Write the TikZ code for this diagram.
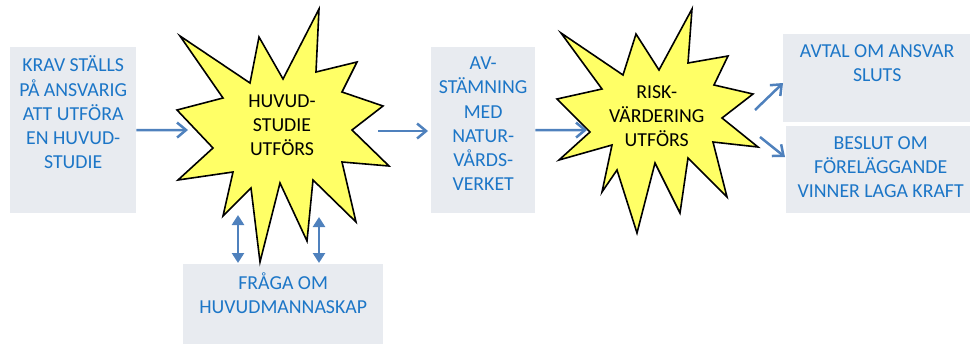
\documentclass[tikz,border=0pt]{standalone}
\usepackage{fontspec}
\setmainfont{Carlito}
\usetikzlibrary{arrows.meta,calc}
\definecolor{boxfill}{HTML}{E8EBF0}
\definecolor{txtblue}{HTML}{1C76C7}
\definecolor{arrblue}{HTML}{4F81BD}
\definecolor{starfill}{HTML}{FFFF66}
\begin{document}
\begin{tikzpicture}[x=1pt,y=-1pt,
  box/.style={fill=boxfill, draw=none, inner sep=0pt, anchor=north west},
  btxt/.style={text=txtblue, align=center, inner sep=0pt, anchor=north, font=\fontsize{19.8}{24.2}\selectfont},
  stxt/.style={text=black, align=center, inner sep=0pt, anchor=north, font=\fontsize{19.8}{24.2}\selectfont},
  flow/.style={draw=arrblue, line width=2.5pt, -{Straight Barb[length=9pt,width=15pt]}},
  dbl/.style={draw=arrblue, line width=2.8pt, {Triangle[length=10pt,width=12pt]}-{Triangle[length=10pt,width=12pt]}},
  star/.style={fill=starfill, draw=black, line width=1.6pt, line join=miter}]
\useasboundingbox (0,0) rectangle (970,343);

% boxes
\node[box, minimum width=126pt, minimum height=166pt] (b1) at (10,47) {};
\node[btxt, yshift=-7.8pt] (t1) at (b1.north) {\strut KRAV STÄLLS\\PÅ ANSVARIG\\ATT UTFÖRA\\EN HUVUD-\\STUDIE};

\node[box, minimum width=104pt, minimum height=166pt] (b2) at (431,47) {};
\node[btxt, yshift=-5.6pt] (t2) at (b2.north) {\strut AV-\\STÄMNING\\MED\\NATUR-\\VÅRDS-\\VERKET};

\node[box, minimum width=189pt, minimum height=88pt] (b3) at (783,34) {};
\node[btxt, yshift=-6.6pt] (t3) at ($(b3.north)+(-0.5,0)$) {\strut AVTAL OM ANSVAR\\SLUTS};

\node[box, minimum width=186pt, minimum height=87pt] (b4) at (786,126) {};
\node[btxt, yshift=-6.1pt] (t4) at ($(b4.north)+(1.5,0)$) {\strut BESLUT OM\\FÖRELÄGGANDE\\VINNER LAGA KRAFT};

\node[box, minimum width=200pt, minimum height=80pt] (b5) at (183,264) {};
\node[btxt, yshift=-8.4pt] (t5) at (b5.north) {\strut FRÅGA OM\\HUVUDMANNASKAP};

% stars
\draw[star] (180,36) -- (250,83) -- (259,37) -- (283,79) -- (319,9) -- (316,72)
  -- (357,62) -- (342,92) -- (383,106) -- (352,130) -- (389,166) -- (342,162)
  -- (356,222) -- (313,180) -- (307,241) -- (280,183) -- (260,262) -- (251,188)
  -- (223,216) -- (233,172) -- (178,180) -- (213,148) -- (177,110) -- (223,98) -- cycle;
\node[stxt] (s1) at (282,90.4) {\strut HUVUD-\\STUDIE\\UTFÖRS};

\draw[star] (561,33) -- (623,75) -- (636,34) -- (659,70) -- (692,9) -- (688,63)
  -- (728,56) -- (714,85) -- (753,94) -- (722,118) -- (758,147) -- (713,142)
  -- (727,197) -- (688,158) -- (680,213) -- (655,163) -- (637,233) -- (617,170)
  -- (602,192) -- (612,145) -- (559,160) -- (590,132) -- (557,99) -- (602,89) -- cycle;
\node[stxt] (s2) at (656.7,81.4) {\strut RISK-\\VÄRDERING\\UTFÖRS};

% connector end points
\coordinate (s1w) at (188,130);
\coordinate (s1e) at (378,131);
\coordinate (s2w) at (587,130);
\coordinate (s2a) at (755,110);
\coordinate (b3a) at (783,83);
\coordinate (s2b) at (760,137);
\coordinate (b4a) at (785,157);
\coordinate (d1a) at (238,215);
\coordinate (d1b) at (238,263);
\coordinate (d2a) at (319,217);
\coordinate (d2b) at (319,263);

% connectors
\draw[flow] (b1.east) -- (s1w);
\draw[flow, shorten >=3pt] (s1e) -- (b2.west |- s1e);
\draw[flow] (b2.east) -- (s2w);
\draw[flow] (s2a) -- (b3a);
\draw[flow] (s2b) -- (b4a);
\draw[dbl] (d1a) -- (d1b);
\draw[dbl] (d2a) -- (d2b);
\end{tikzpicture}
\end{document}
